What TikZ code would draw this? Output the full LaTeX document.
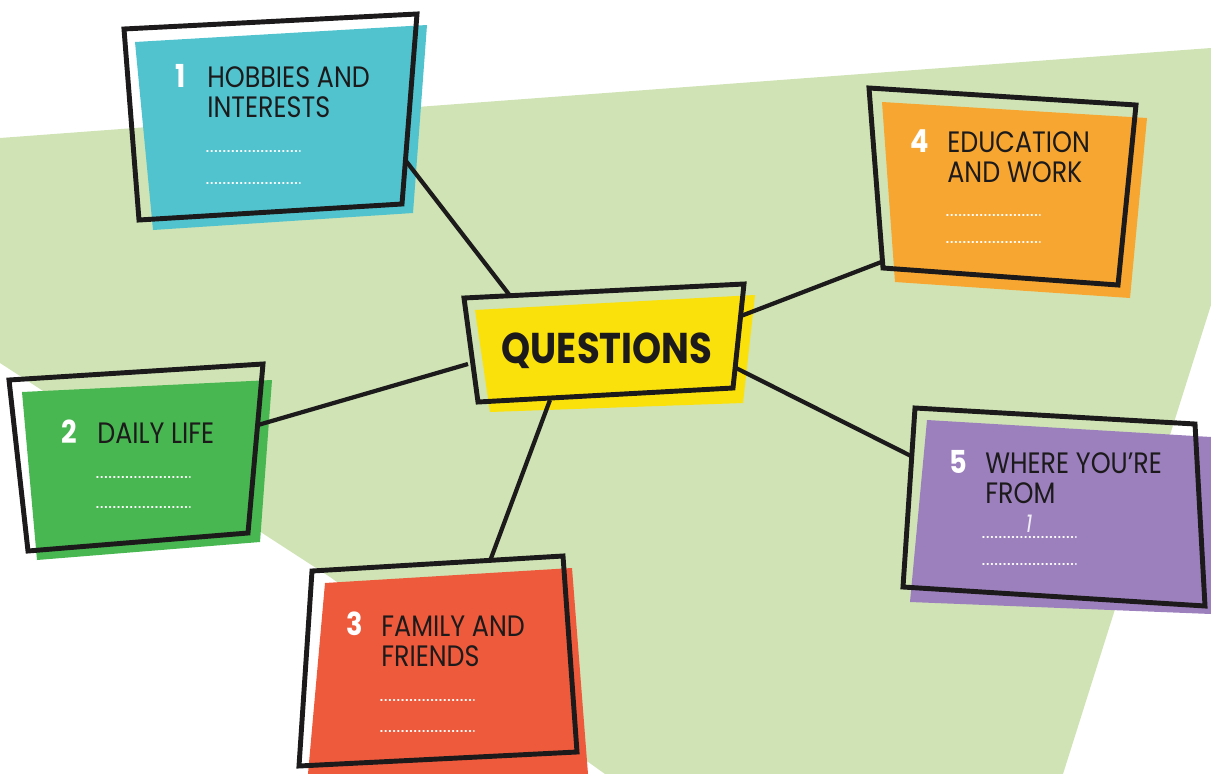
\documentclass[tikz,border=0pt]{standalone}
\usepackage{fontspec}
\setmainfont{Poppins}[FakeStretch=0.86]
\definecolor{ink}{HTML}{1C1A1B}
\definecolor{sage}{HTML}{CFE3B4}
\definecolor{teal}{HTML}{50C3CF}
\definecolor{leaf}{HTML}{48B651}
\definecolor{tomato}{HTML}{EE5A3C}
\definecolor{amber}{HTML}{F8A632}
\definecolor{lilac}{HTML}{9B80BD}
\definecolor{lemon}{HTML}{FBE10B}
\begin{document}
\begin{tikzpicture}[x=0.02cm, y=-0.02cm,
    frame/.style = {draw=ink, line width=2.8pt, line join=miter},
    link/.style = {draw=ink, line width=2.4pt},
    title/.style = {anchor=base west, align=left, inner sep=0pt, text=ink,
                    font=\fontsize{16.8}{17}\selectfont},
    num/.style = {anchor=base, inner sep=0pt, text=white,
                  font=\bfseries\fontsize{18}{18}\selectfont},
    dotline/.style = {white, line width=0.9pt, dash pattern=on 0.5pt off 1.9pt, line cap=round}]
  \useasboundingbox (0,0) rectangle (1211,774);
  % background
  \fill[sage] (0,138) -- (1211,48) -- (1211,305) -- (1063,774) -- (605,774) -- (330,577) -- (0,363) -- cycle;
  % coloured cards
  \fill[teal]   (135,42) -- (427,25) -- (413,213) -- (153,230) -- cycle;
  \fill[leaf]   (22,392) -- (272,380) -- (260,542) -- (37,560) -- cycle;
  \fill[tomato] (325,583) -- (572,568) -- (588,774) -- (308,774) -- cycle;
  \fill[amber]  (882,102) -- (1147,118) -- (1130,298) -- (895,282) -- cycle;
  \fill[lilac]  (927,420) -- (1211,437) -- (1211,614) -- (910,602) -- cycle;
  \fill[lemon]  (475,310) -- (755,295) -- (743,403) -- (490,412) -- cycle;
  % connector ends
  \coordinate (q1) at (511,297);
  \coordinate (q2) at (468,364);
  \coordinate (q3) at (550,400);
  \coordinate (q4) at (741,316);
  \coordinate (q5) at (736,368);
  \coordinate (h1) at (406,161);
  \coordinate (h2) at (258,425);
  \coordinate (h3) at (490,561);
  \coordinate (h4) at (884,261);
  \coordinate (h5) at (911,456);
  \path[link] (q1) edge (h1)
              (q2) edge (h2)
              (q3) edge (h3)
              (q4) edge (h4)
              (q5) edge (h5);
  % frames
  \draw[frame] (124,29) -- (417,14) -- (402,204) -- (139,220) -- cycle;
  \draw[frame] (9,380) -- (263,364) -- (248,533) -- (28,551) -- cycle;
  \draw[frame] (312,571) -- (563,556) -- (577,752) -- (299,766) -- cycle;
  \draw[frame] (869,88) -- (1136,105) -- (1118,285) -- (883,268) -- cycle;
  \draw[frame] (915,408) -- (1195,424) -- (1205,606) -- (903,587) -- cycle;
  \draw[frame] (464,298) -- (744,284) -- (733,388) -- (478,402) -- cycle;
  % labels (two-line titles sit on their last baseline)
  \node[text=ink, inner sep=0pt, font=\bfseries\fontsize{24.5}{25}\selectfont] (qs) at (607,351) {QUESTIONS};
  \node[num] (n1) at (181,87) {1};
  \node[title] (t1) at (207,117) {HOBBIES AND\\INTERESTS};
  \node[num] (n2) at (69,443) {2};
  \node[title] (t2) at (97,443) {DAILY LIFE};
  \node[num] (n3) at (355,635) {3};
  \node[title] (t3) at (381,666) {FAMILY AND\\FRIENDS};
  \node[num] (n4) at (920,152) {4};
  \node[title] (t4) at (947,182) {EDUCATION\\AND WORK};
  \node[num] (n5) at (958,473) {5};
  \node[title] (t5) at (985,503) {WHERE YOU’RE\\FROM};
  \node[text=white!85!lilac, inner sep=0pt, font=\itshape\fontsize{14}{14}\selectfont] (a5) at (1029,524) {1};
  % answer lines
  \foreach \x/\y in {207/151, 207/183, 97/477, 97/507, 381/700, 381/731,
                     947/215, 947/242, 983/537, 983/564}
    \draw[dotline] (\x,\y) -- ++(93,0);
\end{tikzpicture}
\end{document}
